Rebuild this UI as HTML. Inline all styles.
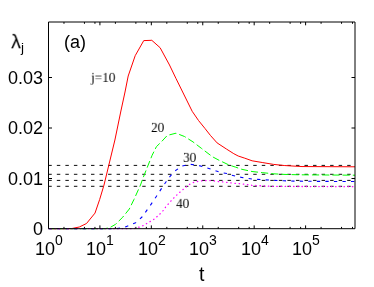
<!DOCTYPE html>
<html><head><meta charset="utf-8">
<style>
html,body{margin:0;padding:0;background:#fff;}
body{width:374px;height:287px;overflow:hidden;position:relative;font-family:"Liberation Sans",sans-serif;color:#000;}
svg{position:absolute;left:0;top:0;}
.t{position:absolute;will-change:transform;white-space:nowrap;line-height:1;}
.s{font-family:"Liberation Serif",serif;font-size:14.6px;transform:scale(0.91);transform-origin:0 0;}
.yl{font-size:18px;text-align:right;width:43px;left:0;}
.xl{font-size:18px;}
.xl sup{font-size:14px;position:relative;top:-10.1px;vertical-align:baseline;line-height:0;}
</style></head><body>
<svg width="374" height="287" viewBox="0 0 374 287">
<g fill="none" stroke="#000" stroke-width="0.95" stroke-dasharray="3.45 5.09"><path d="M48.3 165.4H355"/><path d="M48.3 174.3H355"/><path d="M48.3 180.4H355"/><path d="M48.3 186.3H355"/></g>
<g fill="none" stroke-width="1" stroke-linejoin="round">
<path stroke="#ff0000" d="M48.5 228.7L68 228.7L72 228.5L79.3 227L86.5 223.5L95 213.1L99.7 199.4L104 185L114.9 140L120.9 111L125 92L128.2 76L135.2 55.7L143.75 40.6L151.8 40.3L160.1 47.7L169.5 65L175.9 78.3L192.2 111.3L198.56 120.56L205 128.5L210.4 135.4L217.1 142.9L226.7 149.2L233.8 153.7L238.2 156L244.8 158.2L252.1 160.8L262.8 162.6L273.5 164.4L284.2 165.5L294 166.1L302 166.55L355 166.8"/>
<path stroke="#00ff00" stroke-dasharray="7.2 3" stroke-dashoffset="9.08" d="M48.5 228.7L105 228.7L110 227.5L115.6 224.3L122.8 217.1L129.3 209L134 199.4L140.5 185L143.1 177.8L147.8 166L152.1 155.3L156.4 146.7L161.6 141.6L167.3 135.4L176 133.2L184.5 136.5L193 141.9L201.5 148.4L210 154.9L213.1 157.1L219.5 160.5L222.5 161.9L229.2 165.1L235.8 167.2L241.4 169.2L252 171.5L262.8 172.7L273.5 173.8L284 174.4L299 174.8L355 175.2"/>
<path stroke="#0000ff" stroke-width="1.1" stroke-dasharray="3.3 5.24" stroke-dashoffset="0.01" d="M48.5 228.7L116.4 228.7L126 226.7L135.7 222.7L142 217L150 205.9L156.5 196.2L162.2 187.4L166.3 181.5L169.1 177.5L171.6 174.5L175 171L178 168.9L181.9 166.2L185.7 165.2L190.5 164.4L194.2 164.8L199 165.6L202.4 166.5L207.2 168L210.8 169L215.5 170.8L219 171.8L223.3 172.9L227 173.6L231.8 175.3L235.6 176.1L241.4 177.4L252 179L262.8 179.7L273.5 180.3L284 180.8L293.8 181.1L320 181.4L355 181.5"/>
<path stroke="#ff00ff" stroke-width="1.3" stroke-linecap="round" stroke-dasharray="0.4 3.8" stroke-dashoffset="1.9" d="M48.5 228.7L134 228.7L142 226.2L150 221.6L154.1 219.2L156.8 216.8L160 213.9L163.07 210.6L165.57 207.15L168.25 204.08L171.15 200.74L174.2 197.56L176.7 195.1L179.9 192.2L183.2 189.4L186.5 186.6L189.3 184.5L192.9 182.7L196 181.7L198.1 181.4L202.4 180.8L206.7 180.6L211 180.6L215.3 181.1L219.5 181.7L223.8 182L228.1 182.5L232.4 183.1L235.8 183.4L241.4 183.8L252 185.3L262.8 185.9L273.5 186.4L355 186.7"/>
</g>
<g fill="none" stroke="#000" stroke-width="1">
<path d="M48.5 22.0V228.7H355.0V22.0Z"/>
<path d="M63.98 228.7v-1.8M63.98 22.0v1.8M84.44 228.7v-1.8M84.44 22.0v1.8M94.94 228.7v-1.8M94.94 22.0v1.8M99.92 228.7v-3.3M99.92 22.0v3.3M115.40 228.7v-1.8M115.40 22.0v1.8M135.86 228.7v-1.8M135.86 22.0v1.8M146.36 228.7v-1.8M146.36 22.0v1.8M151.34 228.7v-3.3M151.34 22.0v3.3M166.82 228.7v-1.8M166.82 22.0v1.8M187.28 228.7v-1.8M187.28 22.0v1.8M197.78 228.7v-1.8M197.78 22.0v1.8M202.76 228.7v-3.3M202.76 22.0v3.3M218.24 228.7v-1.8M218.24 22.0v1.8M238.70 228.7v-1.8M238.70 22.0v1.8M249.20 228.7v-1.8M249.20 22.0v1.8M254.18 228.7v-3.3M254.18 22.0v3.3M269.66 228.7v-1.8M269.66 22.0v1.8M290.12 228.7v-1.8M290.12 22.0v1.8M300.62 228.7v-1.8M300.62 22.0v1.8M305.60 228.7v-3.3M305.60 22.0v3.3M321.08 228.7v-1.8M321.08 22.0v1.8M341.54 228.7v-1.8M341.54 22.0v1.8M352.50 228.7v-1.8M352.50 22.0v1.8M48.5 77.5h3.5M355.0 77.5h-3.5M48.5 128.0h3.5M355.0 128.0h-3.5M48.5 178.5h3.5M355.0 178.5h-3.5"/>
</g>
</svg>
<div class="t" style="left:10.6px;top:31.5px;font-size:22px;transform:scale(0.905);transform-origin:0 0;">λ</div>
<div class="t" style="left:20.7px;top:41.4px;font-size:13.5px;">j</div>
<div class="t" style="left:64.2px;top:33px;font-size:18px;">(a)</div>
<div class="t yl" style="top:68.7px;">0.03</div>
<div class="t yl" style="top:118.7px;">0.02</div>
<div class="t yl" style="top:169.6px;">0.01</div>
<div class="t yl" style="top:219.7px;">0</div>
<div class="t s" style="left:91.4px;top:71.25px;">j=10</div>
<div class="t s" style="left:151px;top:121.2px;">20</div>
<div class="t s" style="left:182.5px;top:151px;">30</div>
<div class="t s" style="left:175.7px;top:197.4px;">40</div>
<div class="t xl" style="left:35.2px;top:239.7px;">10<sup>0</sup></div>
<div class="t xl" style="left:85.8px;top:239.7px;">10<sup>1</sup></div>
<div class="t xl" style="left:137.5px;top:239.7px;">10<sup>2</sup></div>
<div class="t xl" style="left:189.4px;top:239.7px;">10<sup>3</sup></div>
<div class="t xl" style="left:241.1px;top:239.7px;">10<sup>4</sup></div>
<div class="t xl" style="left:292px;top:239.7px;">10<sup>5</sup></div>
<div class="t" style="left:198.9px;top:264.6px;font-size:19.5px;">t</div>
</body></html>
